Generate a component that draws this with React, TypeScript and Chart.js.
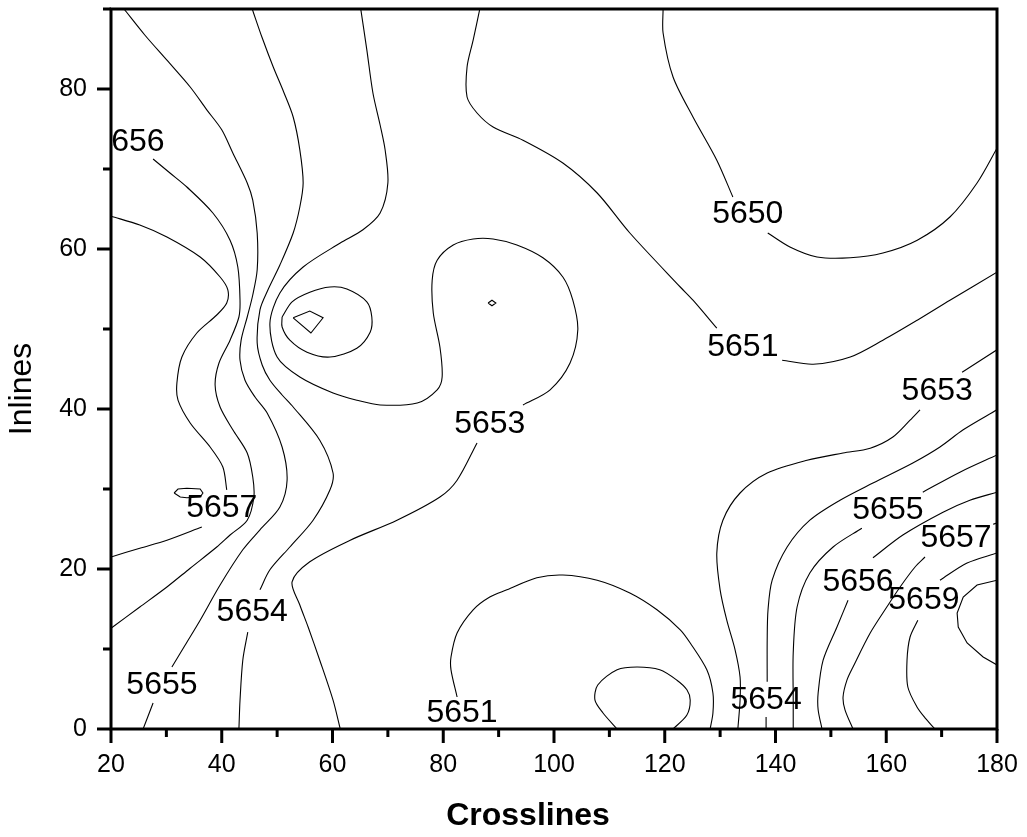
import { useEffect, useRef } from "react";
import { Chart, registerables } from "chart.js";

Chart.register(...registerables);

type Pt = [number, number] | null;

// Iso-depth lines in (crossline, inline) units. A null splits a line where its value label is printed.
const c5650: Pt[] = [[119.7, 90], [119.7, 87.0], [121.5, 81.5], [125.1, 76.5], [129.4, 71.1], [132.3, 66.5], null, [138.6, 62.0], [142.6, 60.25], [147.5, 59.0], [153.5, 58.9], [159.4, 59.5], [165.6, 61.1], [171.5, 64.0], [176.4, 68.25], [180, 72.6]];
const c5650Low: Pt[] = [[111.4, 0], [108.85, 2.0], [107.4, 3.6], [107.9, 5.5], [111.4, 7.4], [115.0, 7.75], [119.1, 7.4], [122.2, 6.1], [124.0, 4.9], [124.6, 3.6], [124.0, 1.75], [121.5, 0]];
const c5651North: Pt[] = [[86.6, 90], [85.4, 86.1], [84.3, 82.75], [84.3, 79.0], [86.1, 77.0], [89.0, 75.25], [94.4, 73.6], [101.6, 70.75], [107.8, 67.0], [113.7, 62.0], [122.8, 55.25], [125.1, 53.6], [129.4, 50.1], null, [141.2, 46.1], [146.8, 45.6], [153.5, 46.5], [159.4, 48.6], [165.6, 51.1], [171.5, 53.6], [180, 57.1]];
const c5651South: Pt[] = [[82.5, 4.0], [81.4, 7.4], [81.4, 9.0], [82.5, 12.0], [85.4, 14.9], [88.4, 16.5], [91.5, 17.4], [96.9, 18.9], [101.6, 19.25], [107.8, 18.6], [113.7, 17.0], [118.6, 14.9], [122.8, 12.4], [124.6, 10.75], [127.6, 7.4], [128.7, 4.5], [128.7, 2.0], [128.2, 0]];
const c5651Pocket: Pt[] = [[52.9, 51.4], [55.9, 52.25], [58.3, 51.4], [56.1, 49.5], [52.9, 51.4]];
const c5652Ring: Pt[] = [[50.9, 51.5], [52.7, 53.4], [55.9, 54.6], [59.55, 55.25], [62.6, 55.0], [66.2, 53.4], [67.1, 51.5], [66.8, 49.6], [64.4, 47.6], [59.55, 46.5], [55.4, 47.1], [52.3, 48.6], [50.9, 50.25], [50.9, 51.5]];
const c5652Dot: Pt[] = [[88.1, 53.25], [88.8, 53.6], [89.5, 53.25], [88.8, 52.9], [88.1, 53.25]];
const c5653West: Pt[] = [[65.1, 90], [66.2, 84.9], [67.3, 79.5], [68.6, 75.5], [69.5, 72.4], [70.0, 68.25], [68.6, 64.5], [65.5, 62.4], [61.4, 60.75], [54.7, 57.75], [50.5, 54.5], [48.7, 50.75], [50.0, 46.5], [54.1, 44.0], [60.1, 42.0], [64.4, 41.1], [68.6, 40.5], [75.3, 40.75], [78.9, 42.4], [79.8, 44.0], [79.4, 47.75], [78.2, 52.0], [78.0, 56.1], [78.9, 58.6], [81.8, 60.5], [85.4, 61.25], [89.0, 61.25], [93.3, 60.5], [98.0, 58.9], [101.6, 56.5], [103.4, 53.6], [104.3, 49.9], [102.9, 45.75], [99.3, 42.4], [94.4, 40.5], null, [86.1, 35.75], [82.5, 31.1], [79.4, 29.0], [71.65, 26.1], [63.2, 23.6], [55.9, 20.9], [52.7, 18.4], [54.1, 15.5], [55.6, 12.75], [57.7, 8.6], [60.1, 3.6], [61.4, 0]];
const c5653East: Pt[] = [[133.2, 0], [133.6, 3.6], [133.6, 6.5], [132.7, 9.9], [131.2, 13.6], [130.0, 17.4], [129.4, 22.0], [130.5, 26.1], [133.6, 29.5], [138.5, 32.0], [145.7, 33.6], [152.2, 34.5], [157.1, 35.1], [161.2, 36.5], [164.3, 38.6], [166.1, 39.9], null, [173.7, 44.6], [180, 47.4]];
const c5654West: Pt[] = [[45.5, 90], [47.3, 86.4], [49.3, 82.75], [51.2, 79.6], [52.9, 76.5], [54.1, 72.4], [54.7, 68.25], [54.1, 65.25], [52.9, 62.0], [50.5, 58.0], [48.35, 54.9], [46.9, 52.4], [46.4, 48.25], [47.3, 45.5], [48.7, 43.6], [50.9, 41.75], [52.9, 40.25], [57.7, 36.1], [60.1, 32.0], [59.55, 29.9], [56.5, 26.1], [52.3, 22.75], [48.7, 19.9], [46.9, 17.4], null, [44.7, 12.1], [43.8, 8.6], [43.3, 3.6], [43.1, 0]];
const c5654East: Pt[] = [[138.3, 0], [138.3, 1.5], null, [138.5, 5.9], [138.5, 11.1], [138.65, 14.9], [139.4, 18.6], [142.1, 22.75], [146.2, 26.1], [151.65, 28.6], [157.6, 30.75], [164.8, 33.25], [169.7, 35.25], [173.9, 37.4], [180, 39.9]];
const c5655West: Pt[] = [[22.35, 90], [26.1, 86.75], [30.1, 83.6], [34.3, 80.25], [37.3, 77.4], [40.0, 74.9], [42.0, 72.0], [44.6, 68.25], [45.6, 66.1], [46.4, 62.0], [46.4, 57.4], [45.6, 54.25], [44.6, 51.5], [43.5, 48.6], [43.3, 46.1], [44.2, 43.6], [46.0, 41.5], [48.2, 39.5], [50.9, 35.25], [51.8, 31.1], [50.5, 27.75], [46.9, 24.9], [43.8, 22.4], [39.7, 18.0], [36.1, 13.6], [33.4, 10.5], [31.0, 7.75], null, [27.6, 3.25], [25.8, 0]];
const c5655East: Pt[] = [[143.2, 0], [143.2, 3.6], [143.2, 9.5], [143.9, 15.25], [146.2, 19.5], [150.4, 22.75], [155.6, 25.1], null, [166.6, 29.6], [173.3, 32.1], [180, 34.25]];
const c5656West: Pt[] = [[27.6, 71.25], [30.65, 69.5], [33.7, 67.75], [38.4, 64.5], [41.5, 61.1], [42.9, 57.75], [43.3, 53.6], [43.1, 51.5], [41.5, 48.6], [39.5, 45.75], [38.8, 43.0], [39.7, 40.25], [42.0, 37.4], [44.6, 34.5], [45.6, 31.5], [45.8, 29.0], [44.6, 26.1], [41.5, 24.25], [39.1, 22.75], [34.3, 20.1], [30.1, 17.75], [25.2, 15.25], [20, 12.6]];
const c5656East: Pt[] = [[148.4, 0], [147.7, 2.4], [147.7, 4.5], [148.6, 8.6], [151.1, 12.75], [153.1, 16.1], null, [157.6, 21.4], [163.0, 24.25], [170.25, 27.1], [175.1, 28.6], [180, 29.6]];
const c5657West: Pt[] = [[20, 64.1], [25.2, 63.0], [30.1, 61.5], [36.1, 59.0], [39.7, 56.5], [41.1, 54.9], [40.9, 53.25], [39.1, 51.75], [35.5, 49.5], [32.8, 46.5], [31.9, 43.25], [32.1, 41.1], [34.3, 38.25], [37.9, 35.25], [40.2, 32.75], [40.9, 29.9], null, [36.4, 25.25], [30.1, 23.6], [25.2, 22.6], [20, 21.5]];
const c5657East: Pt[] = [[154.0, 0], [152.55, 2.4], [152.2, 4.0], [152.9, 6.1], [154.0, 7.75], [157.1, 12.0], [160.1, 15.25], [162.5, 17.75], [165.2, 20.25], [167.0, 21.5], null, [179.3, 25.6], [180, 25.75]];
const c5658Knot: Pt[] = [[31.4, 29.5], [32.1, 30.0], [33.7, 30.1], [36.1, 30.0], [36.6, 29.5], [36.1, 29.0], [33.7, 28.9], [32.5, 29.0], [31.4, 29.5]];
const c5659: Pt[] = [[168.8, 0], [167.0, 1.4], [165.55, 2.75], [163.9, 5.25], [163.75, 8.6], [164.3, 11.5], [165.7, 13.6], null, [169.7, 18.6], [174.6, 20.75], [180, 22.0]];
const c5660: Pt[] = [[180, 18.6], [176.4, 18.0], [173.9, 16.5], [172.8, 14.5], [173.0, 12.75], [174.6, 10.75], [177.5, 9.0], [180, 8.0]];

const contourLines: { level: number; pts: Pt[] }[] = [
  { level: 5650, pts: c5650 },
  { level: 5650, pts: c5650Low },
  { level: 5651, pts: c5651North },
  { level: 5651, pts: c5651South },
  { level: 5651, pts: c5651Pocket },
  { level: 5652, pts: c5652Ring },
  { level: 5652, pts: c5652Dot },
  { level: 5653, pts: c5653West },
  { level: 5653, pts: c5653East },
  { level: 5654, pts: c5654West },
  { level: 5654, pts: c5654East },
  { level: 5655, pts: c5655West },
  { level: 5655, pts: c5655East },
  { level: 5656, pts: c5656West },
  { level: 5656, pts: c5656East },
  { level: 5657, pts: c5657West },
  { level: 5657, pts: c5657East },
  { level: 5658, pts: c5658Knot },
  { level: 5659, pts: c5659 },
  { level: 5660, pts: c5660 },
];

// Value labels printed inline on the iso-lines.
const labelLevels = [5650, 5651, 5651, 5653, 5653, 5654, 5654, 5655, 5655, 5656, 5656, 5657, 5657, 5659];
const labelX = [135.0, 134.1, 83.4, 88.4, 169.2, 45.5, 138.3, 29.2, 160.3, 23.25, 154.9, 40.0, 172.6, 166.8];
const labelY = [64.4, 47.75, 2.0, 38.1, 42.25, 14.6, 3.6, 5.5, 27.4, 73.4, 18.4, 27.6, 23.9, 16.1];

const xTitle = "Crosslines";
const yTitle = "Inlines";

const FONT = '"Liberation Sans", Arial, Helvetica, sans-serif';

const framePlugin = {
  id: "contourFrame",
  afterDatasetsDraw(chart: any) {
    const { ctx, chartArea: a, scales } = chart;
    const xs = scales.x;
    const ys = scales.y;

    // inline value labels, clipped to the plot box
    ctx.save();
    ctx.beginPath();
    ctx.rect(a.left, a.top, a.right - a.left, a.bottom - a.top);
    ctx.clip();
    ctx.font = `32px ${FONT}`;
    ctx.fillStyle = "#000";
    ctx.textAlign = "center";
    ctx.textBaseline = "middle";
    labelLevels.forEach((lv, i) => {
      ctx.fillText(String(lv), xs.getPixelForValue(labelX[i]), ys.getPixelForValue(labelY[i]));
    });
    ctx.restore();

    // box frame
    ctx.save();
    ctx.strokeStyle = "#000";
    ctx.lineWidth = 3;
    ctx.strokeRect(a.left, a.top, a.right - a.left, a.bottom - a.top);

    // outward major / minor tick marks on the left and bottom axes
    const tickX = (v: number, len: number) => {
      const p = xs.getPixelForValue(v);
      ctx.beginPath();
      ctx.moveTo(p, a.bottom);
      ctx.lineTo(p, a.bottom + len);
      ctx.stroke();
    };
    const tickY = (v: number, len: number) => {
      const p = ys.getPixelForValue(v);
      ctx.beginPath();
      ctx.moveTo(a.left, p);
      ctx.lineTo(a.left - len, p);
      ctx.stroke();
    };
    ctx.lineCap = "butt";
    xs.ticks.forEach((t: any) => {
      tickX(t.value, 14);
      if (t.value + 10 <= xs.max) tickX(t.value + 10, 8);
    });
    ys.ticks.forEach((t: any) => {
      tickY(t.value, 14);
      if (t.value + 10 <= ys.max) tickY(t.value + 10, 8);
    });

    // axis titles
    ctx.fillStyle = "#000";
    ctx.textAlign = "center";
    ctx.textBaseline = "middle";
    ctx.font = `bold 32px ${FONT}`;
    ctx.fillText(xTitle, (a.left + a.right) / 2 - 26, a.bottom + 87);
    ctx.translate(22.5, (a.top + a.bottom) / 2 + 20);
    ctx.rotate(-Math.PI / 2);
    ctx.font = `32px ${FONT}`;
    ctx.fillText(yTitle, 0, 0);
    ctx.restore();
  },
};

// Fixed axis band sizes so the plot box lands at a set place on the canvas.
const fixBand = (size: number, horizontal: boolean) => (s: any) => {
  if (horizontal) s.height = size;
  else s.width = size;
  s.paddingTop = 0;
  s.paddingBottom = 0;
  s.paddingLeft = 0;
  s.paddingRight = 0;
};

export default function App() {
  const canvasRef = useRef<HTMLCanvasElement | null>(null);

  useEffect(() => {
    const canvas = canvasRef.current;
    if (!canvas) return;

    const datasets = contourLines.map((c) => ({
      label: String(c.level),
      data: c.pts.map((p) => (p ? { x: p[0], y: p[1] } : { x: NaN, y: NaN })),
      showLine: true,
      borderColor: "#000",
      borderWidth: 1.1,
      pointRadius: 0,
      pointHoverRadius: 0,
      tension: c.pts.length > 10 ? 0.3 : 0,
      spanGaps: false,
      fill: false,
    }));

    const tickFont = { size: 25, family: FONT };

    const chart = new Chart(canvas, {
      type: "scatter",
      data: { datasets },
      plugins: [framePlugin],
      options: {
        responsive: false,
        animation: false,
        devicePixelRatio: 1,
        layout: { padding: { left: 0, right: 30, top: 9, bottom: 0 } },
        plugins: { legend: { display: false }, tooltip: { enabled: false } },
        scales: {
          x: {
            type: "linear",
            min: 20,
            max: 180,
            ticks: {
              stepSize: 20,
              includeBounds: false,
              padding: 21,
              color: "#000",
              font: tickFont,
              maxRotation: 0,
              autoSkip: false,
            },
            grid: { display: false, drawTicks: false },
            border: { display: false },
            afterFit: fixBand(108, true),
          },
          y: {
            type: "linear",
            min: 0,
            max: 90,
            ticks: {
              stepSize: 20,
              includeBounds: false,
              padding: 24,
              color: "#000",
              font: tickFont,
              autoSkip: false,
            },
            grid: { display: false, drawTicks: false },
            border: { display: false },
            afterFit: fixBand(111, false),
          },
        },
      } as any,
    });

    return () => chart.destroy();
  }, []);

  return (
    <div style={{ position: "fixed", left: 0, top: 0, width: 1027, height: 837, background: "#fff" }}>
      <canvas ref={canvasRef} width={1027} height={837} style={{ display: "block", width: 1027, height: 837 }} />
    </div>
  );
}
